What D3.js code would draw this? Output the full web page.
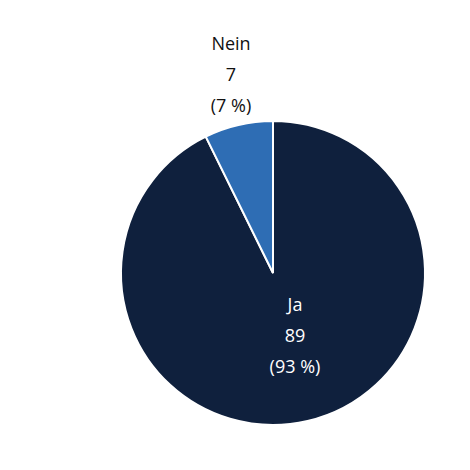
<!DOCTYPE html>
<html><head><meta charset="utf-8">
<script src="https://cdn.jsdelivr.net/npm/d3@7"></script>
<style>body{margin:0;background:#fff}</style>
</head><body>
<div id="chart"></div>
<script>
const categories = ["Ja", "Nein"];
const values = [89, 7];
const percents = ["93 %", "7 %"];
const colors = ["#0f203d", "#2e6db4"];

const W = 470, H = 470, cx = 273, cy = 273, r = 152;

const svg = d3.select("#chart").append("svg")
    .attr("width", W).attr("height", H)
    .style("font-family", "'Open Sans', 'Liberation Sans', sans-serif");

const pie = d3.pie().sort(null).value(d => d)(values);
const arc = d3.arc().innerRadius(0).outerRadius(r);

const g = svg.append("g").attr("transform", `translate(${cx},${cy})`);
g.selectAll("path").data(pie).join("path")
    .attr("d", arc)
    .attr("fill", (d, i) => colors[i])
    .attr("stroke", "#fff").attr("stroke-width", 2);

// label positions
const labelPos = [[295, 306], [231, 45]];
const labelColor = ["#fff", "#111"];
categories.forEach((c, i) => {
    const lines = [c, values[i], `(${percents[i]})`];
    svg.append("g").selectAll("text").data(lines).join("text")
        .attr("x", labelPos[i][0])
        .attr("y", (d, j) => labelPos[i][1] + j * 31)
        .attr("text-anchor", "middle")
        .attr("dominant-baseline", "middle")
        .attr("font-size", 18)
        .attr("fill", labelColor[i])
        .text(d => d);
});
</script>
</body></html>
